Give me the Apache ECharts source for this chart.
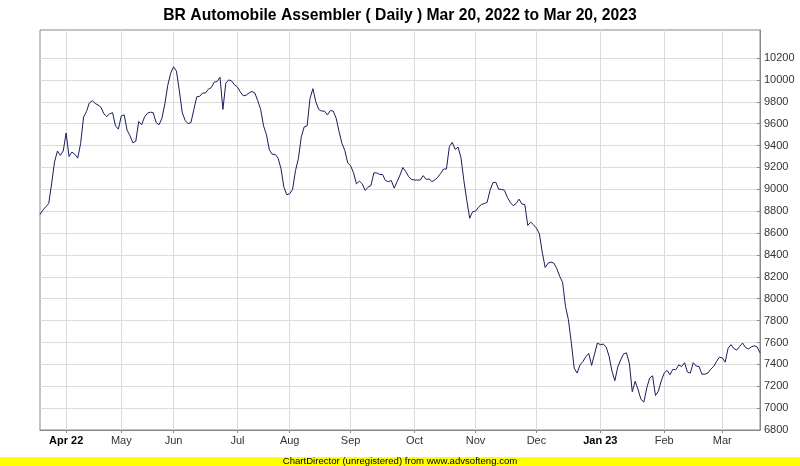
<!DOCTYPE html>
<html>
<head>
<meta charset="utf-8">
<script src="https://cdn.jsdelivr.net/npm/echarts@6/dist/echarts.min.js"></script>
<style>
html,body{margin:0;padding:0;background:#fff;}
#chart{width:800px;height:466px;}
</style>
</head>
<body>
<div id="chart"></div>
<script>
// Trading-day counts per month segment (first segment: Mar 20-31, 2022)
const monthLabels = ["", "Apr 22", "May", "Jun", "Jul", "Aug", "Sep", "Oct", "Nov", "Dec", "Jan 23", "Feb", "Mar"];
const monthCodes  = ["2022-03", "2022-04", "2022-05", "2022-06", "2022-07", "2022-08", "2022-09", "2022-10", "2022-11", "2022-12", "2023-01", "2023-02", "2023-03"];
const monthDays   = [9, 19, 18, 22, 18, 21, 22, 21, 21, 22, 22, 20, 14];
const boldLabels  = ["Apr 22", "Jan 23"];

// Y-axis tick values
const yTicks = [6800, 7000, 7200, 7400, 7600, 7800, 8000, 8200, 8400, 8600, 8800, 9000, 9200, 9400, 9600, 9800, 10000, 10200];

// Daily closing prices
const closes = [
  8770, 8810, 8840, 8870, 9050, 9250, 9350, 9310, 9350,
  9515, 9300, 9340, 9320, 9285, 9420, 9660, 9710, 9790, 9810, 9785, 9770, 9750, 9690, 9665, 9690, 9700, 9580, 9550,
  9670, 9680, 9540, 9490, 9425, 9440, 9620, 9590, 9660, 9695, 9705, 9700, 9610, 9590, 9650, 9780, 9950, 10060,
  10120, 10080, 9900, 9700, 9630, 9600, 9610, 9730, 9845, 9850, 9880, 9880, 9915, 9930, 9980, 9985, 10025, 9730, 9970, 10000, 9990, 9955,
  9935, 9890, 9855, 9860, 9880, 9895, 9880, 9810, 9730, 9580, 9500, 9360, 9320, 9320, 9285, 9190, 9020, 8950,
  8960, 9000, 9170, 9280, 9480, 9570, 9580, 9830, 9920, 9800, 9730, 9715, 9715, 9680, 9720, 9715, 9650, 9530, 9420, 9355, 9240,
  9215, 9150, 9050, 9075, 9050, 8990, 9020, 9035, 9150, 9150, 9135, 9135, 9080, 9070, 9080, 9010, 9070, 9130, 9200, 9160, 9115, 9090,
  9085, 9085, 9085, 9125, 9090, 9095, 9070, 9085, 9110, 9145, 9185, 9185, 9390, 9430, 9365, 9385, 9290, 9080, 8900, 8735, 8795,
  8800, 8835, 8860, 8870, 8880, 8990, 9060, 9065, 9000, 9000, 8990, 8925, 8880, 8850, 8870, 8910, 8865, 8860, 8670, 8700, 8675,
  8645, 8595, 8425, 8285, 8325, 8335, 8325, 8275, 8205, 8150, 7930, 7810, 7600, 7365, 7320, 7395, 7425, 7470, 7500, 7390, 7495, 7595,
  7580, 7585, 7560, 7475, 7340, 7250, 7375, 7440, 7495, 7505, 7410, 7150, 7245, 7170, 7080, 7055, 7185, 7275, 7295, 7115, 7155, 7250,
  7320, 7345, 7305, 7355, 7350, 7395, 7380, 7415, 7330, 7320, 7415, 7385, 7380, 7310, 7310, 7320, 7355, 7380, 7425, 7465,
  7460, 7420, 7545, 7580, 7545, 7530, 7565, 7595, 7555, 7540, 7560, 7570, 7560, 7505
];

// Build category list and month-start lookups
const categories = [];
const startLabel = {};
monthDays.forEach((n, m) => {
  for (let d = 0; d < n; d++) {
    if (d === 0 && monthLabels[m]) startLabel[categories.length] = monthLabels[m];
    categories.push(monthCodes[m] + "#" + (d + 1));
  }
});
const isStart = (idx) => Object.prototype.hasOwnProperty.call(startLabel, idx);

const chart = echarts.init(document.getElementById('chart'));
chart.setOption({
  backgroundColor: '#ffffff',
  animation: false,
  title: {
    text: 'BR Automobile Assembler ( Daily ) Mar 20, 2022 to Mar 20, 2023',
    left: 'center',
    top: 3,
    textStyle: { fontFamily: 'Liberation Sans, Arial, sans-serif', fontSize: 15.7, fontWeight: 'bold', color: '#000' }
  },
  grid: {
    left: 40, right: 40, top: 30, bottom: 36,
    show: true, borderColor: '#888', borderWidth: 1, backgroundColor: '#fff'
  },
  xAxis: {
    type: 'category',
    data: categories,
    boundaryGap: false,
    axisLine: { lineStyle: { color: '#888', width: 1 } },
    axisTick: { show: true, interval: (i) => isStart(i), length: 3, lineStyle: { color: '#888' } },
    splitLine: { show: true, interval: (i) => isStart(i), lineStyle: { color: '#dcdcdc', width: 1 } },
    axisLabel: {
      interval: (i) => isStart(i),
      margin: 5,
      fontFamily: 'Liberation Sans, Arial, sans-serif',
      fontSize: 11,
      color: '#333',
      formatter: (v, i) => {
        const lab = startLabel[i] || '';
        return boldLabels.includes(lab) ? '{b|' + lab + '}' : lab;
      },
      rich: { b: { fontWeight: 'bold', color: '#000', fontSize: 11, fontFamily: 'Liberation Sans, Arial, sans-serif' } }
    }
  },
  yAxis: {
    type: 'value',
    position: 'right',
    min: 6800,
    max: 10456,
    interval: 200,
    axisLine: { show: true, lineStyle: { color: '#888' } },
    axisTick: { show: true, inside: true, length: 3, customValues: yTicks, lineStyle: { color: '#888' } },
    splitLine: { show: true, lineStyle: { color: '#dcdcdc', width: 1 } },
    axisLabel: {
      customValues: yTicks,
      margin: 4,
      fontFamily: 'Liberation Sans, Arial, sans-serif',
      fontSize: 11,
      color: '#333',
      formatter: (v) => String(v)
    }
  },
  series: [{
    type: 'line',
    data: closes,
    showSymbol: false,
    symbol: 'none',
    lineStyle: { color: '#1c1c5c', width: 1 },
    silent: true
  }],
  graphic: [
    { type: 'rect', left: 0, top: 457, shape: { width: 800, height: 9 }, style: { fill: '#ffff00' }, silent: true },
    { type: 'text', left: 'center', top: 456.5, style: { text: 'ChartDirector (unregistered) from www.advsofteng.com', fontFamily: 'Liberation Sans, Arial, sans-serif', fontSize: 9.6, fill: '#000' } }
  ]
});
</script>
</body>
</html>
